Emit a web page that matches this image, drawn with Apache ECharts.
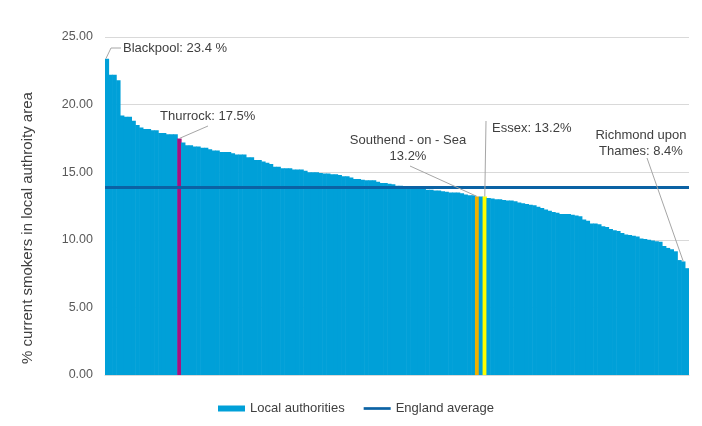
<!DOCTYPE html>
<html>
<head>
<meta charset="utf-8">
<script src="https://cdn.jsdelivr.net/npm/echarts@6/dist/echarts.min.js"></script>
<style>
html,body{margin:0;padding:0;background:#fff;}
#chart{width:702px;height:426px;}
</style>
</head>
<body>
<div id="chart"></div>
<script>
// Smoking prevalence (%) by local authority, sorted descending
const values = [
  23.4, 22.2, 22.2, 21.8, 19.2, 19.1, 19.1, 18.8, 18.5, 18.3,
  18.2, 18.2, 18.1, 18.1, 17.9, 17.9, 17.8, 17.8, 17.8, 17.5,
  17.2, 17.0, 17.0, 16.9, 16.9, 16.8, 16.8, 16.7, 16.6, 16.6,
  16.5, 16.5, 16.5, 16.4, 16.3, 16.3, 16.3, 16.1, 16.1, 15.9,
  15.9, 15.8, 15.7, 15.6, 15.4, 15.4, 15.3, 15.3, 15.3, 15.2,
  15.2, 15.2, 15.1, 15.0, 15.0, 15.0, 14.95, 14.9, 14.9, 14.85,
  14.85, 14.8, 14.7, 14.7, 14.6, 14.5, 14.5, 14.45, 14.4, 14.4,
  14.4, 14.3, 14.2, 14.2, 14.15, 14.1, 14.0, 14.0, 13.95, 13.9,
  13.9, 13.85, 13.8, 13.8, 13.7, 13.7, 13.65, 13.65, 13.6, 13.55,
  13.5, 13.5, 13.5, 13.45, 13.35, 13.3, 13.3, 13.2, 13.2, 13.2,
  13.1, 13.05, 13.0, 13.0, 12.95, 12.9, 12.9, 12.85, 12.75, 12.7,
  12.65, 12.6, 12.55, 12.45, 12.35, 12.25, 12.15, 12.05, 12.0, 11.9,
  11.9, 11.9, 11.85, 11.8, 11.75, 11.5, 11.4, 11.2, 11.2, 11.15,
  11.0, 10.95, 10.8, 10.7, 10.65, 10.5, 10.4, 10.35, 10.3, 10.25,
  10.1, 10.05, 10.0, 9.95, 9.9, 9.85, 9.55, 9.4, 9.3, 9.15,
  8.5, 8.4, 7.9
];
// Named authorities at their position in the sorted list
const namedPositions = [0, 19, 97, 99, 151];
const namedAuthorities = ['Blackpool', 'Thurrock', 'Southend-on-Sea', 'Essex', 'Richmond upon Thames'];
const categories = values.map((v, i) => {
  const k = namedPositions.indexOf(i);
  return k >= 0 ? namedAuthorities[k] : 'Local authority ' + (i + 1);
});
const englandAverage = 13.9;
const yTicks = [0, 5, 10, 15, 20, 25];

const highlightNames = ['Thurrock', 'Southend-on-Sea', 'Essex'];
const highlightColours = ['#A8107F', '#F0B000', '#FFFF00'];

const annotationTexts = [
  'Blackpool: 23.4 %',
  'Thurrock: 17.5%',
  'Southend - on - Sea\n13.2%',
  'Essex: 13.2%',
  'Richmond upon\nThames: 8.4%'
];

const FONT = "'Liberation Sans', Arial, sans-serif";
const BAR_BLUE = '#00A0D8';
const AVG_BLUE = '#0B62A4';

const chart = echarts.init(document.getElementById('chart'), null, {renderer: 'canvas'});

const barData = values.map((v, i) => {
  const h = highlightNames.indexOf(categories[i]);
  return h >= 0 ? {value: v, itemStyle: {color: highlightColours[h]}} : v;
});

chart.setOption({
  animation: false,
  backgroundColor: '#ffffff',
  grid: {left: 105, right: 13, top: 37, bottom: 51, containLabel: false},
  xAxis: {
    type: 'category',
    data: categories,
    axisTick: {show: false},
    axisLabel: {show: false},
    axisLine: {show: true, lineStyle: {color: '#D9D9D9', width: 1}}
  },
  yAxis: {
    type: 'value',
    min: yTicks[0],
    max: yTicks[yTicks.length - 1],
    interval: yTicks[1] - yTicks[0],
    axisLine: {show: false},
    axisTick: {show: false},
    axisLabel: {
      formatter: v => v.toFixed(2),
      color: '#595959',
      fontSize: 12.5,
      fontFamily: FONT,
      margin: 12
    },
    splitLine: {lineStyle: {color: '#D9D9D9', width: 1}}
  },
  legend: {
    left: 213,
    top: 397,
    itemWidth: 27,
    itemHeight: 6,
    itemGap: 19,
    textStyle: {color: '#404040', fontSize: 13, fontFamily: FONT},
    data: [
      {name: 'Local authorities', icon: 'rect'},
      {name: 'England average', icon: 'path://M0,0 L30,0 L30,3 L0,3 Z'}
    ]
  },
  series: [
    {
      name: 'Local authorities',
      type: 'bar',
      data: barData,
      barWidth: 4.4,
      barGap: '-100%',
      itemStyle: {color: BAR_BLUE},
      emphasis: {disabled: true},
      z: 2
    },
    {
      name: 'England average',
      type: 'line',
      data: [],
      symbol: 'none',
      lineStyle: {color: AVG_BLUE, width: 3},
      itemStyle: {color: AVG_BLUE},
      markLine: {
        silent: true,
        symbol: ['none', 'none'],
        label: {show: false},
        lineStyle: {color: AVG_BLUE, width: 3, type: 'solid'},
        data: [{yAxis: englandAverage}]
      },
      z: 3
    }
  ]
});

// Annotations: leader lines from each named bar's top to its text label
function barTop(name) {
  const i = categories.indexOf(name);
  return chart.convertToPixel({seriesIndex: 0}, [i, values[i]]);
}
const pB = barTop('Blackpool');
const pT = barTop('Thurrock');
const pS = barTop('Southend-on-Sea');
const pE = barTop('Essex');
const pR = barTop('Richmond upon Thames');

const LINE = {stroke: '#A6A6A6', lineWidth: 1, fill: null};
const TXT = {fill: '#404040', font: '13px ' + FONT, lineHeight: 16};

chart.setOption({
  graphic: [
    {type: 'polyline', z: 10, shape: {points: [[pB[0] - 1, pB[1]], [111, 48], [121, 48]]}, style: LINE},
    {type: 'text', z: 10, style: Object.assign({text: annotationTexts[0], x: 123, y: 48, textAlign: 'left', textVerticalAlign: 'middle'}, TXT)},

    {type: 'line', z: 10, shape: {x1: pT[0], y1: pT[1], x2: 208, y2: 126}, style: LINE},
    {type: 'text', z: 10, style: Object.assign({text: annotationTexts[1], x: 160, y: 116, textAlign: 'left', textVerticalAlign: 'middle'}, TXT)},

    {type: 'line', z: 10, shape: {x1: pS[0], y1: pS[1], x2: 410, y2: 166}, style: LINE},
    {type: 'text', z: 10, style: Object.assign({text: annotationTexts[2], x: 408, y: 148, textAlign: 'center', textVerticalAlign: 'middle'}, TXT)},

    {type: 'line', z: 10, shape: {x1: pE[0], y1: pE[1], x2: 486, y2: 121}, style: LINE},
    {type: 'text', z: 10, style: Object.assign({text: annotationTexts[3], x: 492, y: 128, textAlign: 'left', textVerticalAlign: 'middle'}, TXT)},

    {type: 'line', z: 10, shape: {x1: pR[0], y1: pR[1], x2: 647, y2: 158}, style: LINE},
    {type: 'text', z: 10, style: Object.assign({text: annotationTexts[4], x: 641, y: 143, textAlign: 'center', textVerticalAlign: 'middle'}, TXT)},

    {type: 'text', z: 10, rotation: Math.PI / 2, x: 28, y: 228,
     style: {text: '% current smokers in local authroity area', fill: '#404040', font: '15px ' + FONT, textAlign: 'center', textVerticalAlign: 'middle'}}
  ]
});
</script>
</body>
</html>
